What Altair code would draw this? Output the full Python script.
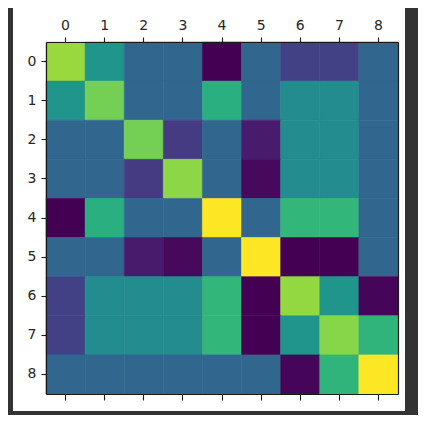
import altair as alt
import pandas as pd

# tick labels / categories
labels = [0, 1, 2, 3, 4, 5, 6, 7, 8]

# matrix values (rows = y, columns = x)
row0 = [0.85, 0.52, 0.33, 0.33, 0.00, 0.33, 0.19, 0.19, 0.33]
row1 = [0.52, 0.79, 0.33, 0.33, 0.63, 0.33, 0.48, 0.48, 0.33]
row2 = [0.33, 0.33, 0.79, 0.17, 0.33, 0.07, 0.48, 0.48, 0.33]
row3 = [0.33, 0.33, 0.17, 0.83, 0.33, 0.02, 0.48, 0.48, 0.33]
row4 = [0.00, 0.63, 0.33, 0.33, 1.00, 0.33, 0.66, 0.66, 0.33]
row5 = [0.33, 0.33, 0.07, 0.02, 0.33, 1.00, 0.00, 0.00, 0.33]
row6 = [0.19, 0.48, 0.48, 0.48, 0.66, 0.00, 0.84, 0.52, 0.01]
row7 = [0.19, 0.48, 0.48, 0.48, 0.66, 0.00, 0.52, 0.82, 0.65]
row8 = [0.33, 0.33, 0.33, 0.33, 0.33, 0.33, 0.01, 0.65, 1.00]
rows = [row0, row1, row2, row3, row4, row5, row6, row7, row8]

records = []
for i, r in enumerate(rows):
    for j, v in enumerate(r):
        records.append({"row": labels[i], "col": labels[j], "value": v})
df = pd.DataFrame(records)

band = alt.Scale(paddingInner=0, paddingOuter=0)
cscale = alt.Scale(scheme="viridis", domain=[0, 1])

axis_style = dict(
    title=None,
    zindex=2,
    grid=False,
    domainColor="#1a1a1a",
    domainWidth=1.2,
    tickColor="#1a1a1a",
    tickWidth=1.1,
    labelFont="DejaVu Sans",
    labelFontSize=14,
    labelColor="#262626",
    labelPadding=5,
    labelAngle=0,
)

# white figure area behind the axes
bg = alt.Chart(pd.DataFrame({"a": [0]})).mark_rect(color="white").encode(
    x=alt.value(-33), x2=alt.value(359), y=alt.value(-38), y2=alt.value(369)
)

heat = alt.Chart(df).mark_rect(strokeWidth=0.6).encode(
    x=alt.X("col:O", scale=band, sort=labels,
            axis=alt.Axis(orient="top", tickSize=5, **axis_style)),
    y=alt.Y("row:O", scale=band, sort=labels,
            axis=alt.Axis(orient="left", tickSize=5, **axis_style)),
    color=alt.Color("value:Q", scale=cscale, legend=None),
    stroke=alt.Stroke("value:Q", scale=cscale, legend=None),
)

frame = alt.Chart(df).mark_rect(opacity=0).encode(
    x=alt.X("col:O", scale=band, sort=labels,
            axis=alt.Axis(orient="bottom", labels=False, tickSize=6, **axis_style)),
    y=alt.Y("row:O", scale=band, sort=labels,
            axis=alt.Axis(orient="right", labels=False, ticks=False, **axis_style)),
)

chart = (
    alt.layer(bg, heat, frame)
    .resolve_axis(x="independent", y="independent")
    .properties(
        width=352,
        height=352,
        autosize=alt.AutoSizeParams(type="none"),
        padding={"left": 38, "top": 34, "right": 20, "bottom": 21},
        background="#333333",
    )
    .configure_view(stroke=None)
)

chart.save("out.html", embed_options={"renderer": "svg", "actions": False})
